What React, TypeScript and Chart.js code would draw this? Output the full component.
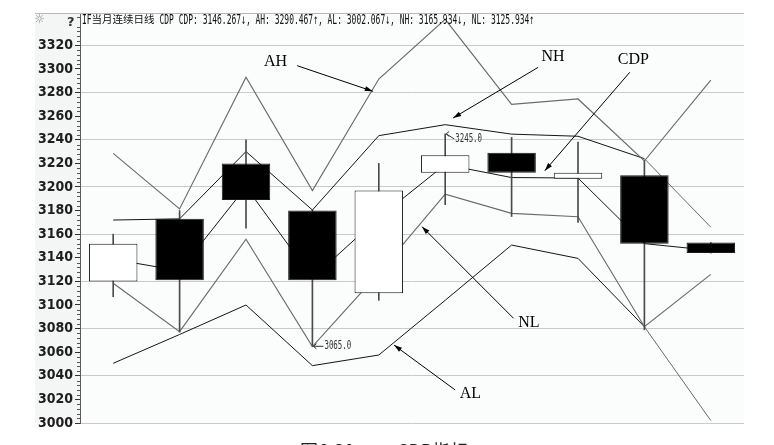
import React, { useEffect, useRef } from 'react';
import { Chart, registerables } from 'chart.js';

Chart.register(...registerables);

// ---- data ----
const days = ['D1', 'D2', 'D3', 'D4', 'D5', 'D6', 'D7', 'D8', 'D9', 'D10'];
const opens = [3120, 3173, 3220, 3180, 3110, 3212, 3229, 3207, 3210, 3153];
const closes = [3152, 3121, 3189, 3121, 3197, 3227, 3212, 3212, 3152, 3144];
const highs = [3160, 3180, 3240, 3181, 3220, 3245, 3242, 3238, 3222, 3153];
const lows = [3107, 3077, 3165, 3065, 3104, 3185, 3175, 3170, 3079, 3144];

const ahValues = [3228.5, 3181.4, 3293, 3197, 3291.5, 3342, 3270, 3274.6, 3222, 3290.467];
const nhValues = [3172, 3173, 3230, 3180.5, 3243.5, 3252.8, 3244.8, 3243, 3224, 3165.934];
const cdpValues = [3138.7, 3129, 3200, 3123, 3174, 3219, 3208, 3207.6, 3152, 3146.267];
const nlValues = [3118.4, 3077.4, 3155.7, 3064.7, 3127, 3194, 3177.7, 3174.8, 3081.6, 3125.934];
const alValues = [3050.6, 3075, 3100, 3048.6, 3057.6, 3104, 3150.8, 3139.5, 3081.6, 3002.067];

const yTicks = [3000, 3020, 3040, 3060, 3080, 3100, 3120, 3140, 3160, 3180, 3200, 3220, 3240, 3260, 3280, 3300, 3320];

const headerPrefix = 'IF';
const headerCjk = '当月连续日线';
const headerRest = ' CDP CDP: 3146.267↓, AH: 3290.467↑, AL: 3002.067↓, NH: 3165.934↓, NL: 3125.934↑';
const captionLeft = '图6-30';
const captionRight = 'CDP指标';

const noteLabels = ['AH', 'NH', 'CDP', 'NL', 'AL'];
// [index, value] anchor positions for the annotation texts and arrows
const noteText = [[2.27, 3306.4], [6.45, 3310.6], [7.6, 3307.8], [6.1, 3085.2], [5.22, 3024.6]];
const noteFrom = [[2.77, 3302.8], [6.4, 3301.4], [7.78, 3297.2], [6.03, 3088.7], [5.15, 3028]];
const noteTo = [[3.91, 3281.1], [5.12, 3258.5], [6.5, 3213.8], [4.65, 3166.4], [4.23, 3066]];

const GRAY = '#6a6a6a';
const DARK = '#151515';

const decorPlugin = {
  id: 'decor',
  beforeDraw(chart: any) {
    const { ctx, chartArea: a, width, height } = chart;
    ctx.save();
    ctx.fillStyle = '#ffffff';
    ctx.fillRect(0, 0, width, height);
    ctx.fillStyle = '#f4f5f5';
    ctx.fillRect(35, a.top, a.left - 35, a.bottom - a.top);
    ctx.fillStyle = '#fbfcfc';
    ctx.fillRect(a.left, a.top, a.right - a.left, a.bottom - a.top);
    ctx.restore();
  },
  afterDraw(chart: any) {
    const { ctx, chartArea: a } = chart;
    const xs = chart.scales.x;
    const ys = chart.scales.y;
    const px = (i: number) => xs.getPixelForValue(i);
    const py = (v: number) => ys.getPixelForValue(v);
    ctx.save();

    // panel top line
    ctx.strokeStyle = '#b8b8b8';
    ctx.lineWidth = 1;
    ctx.beginPath();
    ctx.moveTo(35, a.top - 0.5);
    ctx.lineTo(a.right, a.top - 0.5);
    ctx.stroke();

    // minor ticks on y axis
    ctx.strokeStyle = '#555';
    ctx.beginPath();
    for (let v = 3000; v <= 3344; v += 4) {
      if (v % 20 === 0) continue;
      const y = Math.round(py(v)) + 0.5;
      ctx.moveTo(a.left - 3, y);
      ctx.lineTo(a.left, y);
    }
    ctx.stroke();

    // header icons
    const base = 24;
    ctx.textBaseline = 'alphabetic';
    ctx.fillStyle = '#8a8a8a';
    ctx.font = '12px "DejaVu Sans"';
    ctx.fillText('☼', 34, base - 1);
    ctx.fillStyle = '#333';
    ctx.font = 'bold 13px "DejaVu Sans"';
    ctx.fillText('?', 67, base + 2);

    // header text (condensed mono + CJK)
    const monoScale = 0.57;
    const drawMono = (t: string, x: number) => {
      ctx.save();
      ctx.translate(x, base);
      ctx.scale(monoScale, 1);
      ctx.fillStyle = '#111';
      ctx.font = '14px "DejaVu Sans Mono"';
      ctx.fillText(t, 0, 0);
      const w = ctx.measureText(t).width * monoScale;
      ctx.restore();
      return w;
    };
    let hx = 82;
    hx += drawMono(headerPrefix, hx);
    ctx.fillStyle = '#111';
    ctx.font = '10.5px "Noto Sans CJK SC"';
    ctx.fillText(headerCjk, hx, base - 1);
    hx += ctx.measureText(headerCjk).width;
    drawMono(headerRest, hx);

    // annotations
    ctx.font = '16px "Liberation Serif"';
    ctx.fillStyle = '#000';
    ctx.textBaseline = 'middle';
    noteLabels.forEach((t, k) => {
      ctx.fillText(t, px(noteText[k][0]), py(noteText[k][1]));
      const x1 = px(noteFrom[k][0]);
      const y1 = py(noteFrom[k][1]);
      const x2 = px(noteTo[k][0]);
      const y2 = py(noteTo[k][1]);
      ctx.strokeStyle = '#000';
      ctx.lineWidth = 1;
      ctx.beginPath();
      ctx.moveTo(x1, y1);
      ctx.lineTo(x2, y2);
      ctx.stroke();
      const ang = Math.atan2(y2 - y1, x2 - x1);
      const L = 8;
      const W = 2.5;
      ctx.beginPath();
      ctx.moveTo(x2, y2);
      ctx.lineTo(x2 - L * Math.cos(ang) + W * Math.sin(ang), y2 - L * Math.sin(ang) - W * Math.cos(ang));
      ctx.lineTo(x2 - L * Math.cos(ang) - W * Math.sin(ang), y2 - L * Math.sin(ang) + W * Math.cos(ang));
      ctx.closePath();
      ctx.fill();
    });

    // value marks on extreme candles
    const drawMark = (idx: number, val: number, dx: number, dy: number) => {
      const x0 = px(idx);
      const y0 = py(val);
      ctx.strokeStyle = '#333';
      ctx.lineWidth = 1;
      ctx.beginPath();
      ctx.moveTo(x0 + 1, y0);
      ctx.lineTo(x0 + dx, y0 + dy);
      ctx.moveTo(x0 + 1, y0);
      ctx.lineTo(x0 + 4, y0 - 2.5);
      ctx.moveTo(x0 + 1, y0);
      ctx.lineTo(x0 + 4, y0 + 2.5);
      ctx.stroke();
      ctx.save();
      ctx.translate(x0 + dx + 1, y0 + dy);
      ctx.scale(0.62, 1);
      ctx.fillStyle = '#333';
      ctx.font = '12px "DejaVu Sans Mono"';
      ctx.textBaseline = 'middle';
      ctx.fillText(val.toFixed(1), 0, 0);
      ctx.restore();
    };
    drawMark(3, lows[3], 11, 0);
    drawMark(5, highs[5], 9, 5);

    // caption (cut off at the bottom)
    ctx.fillStyle = '#222';
    ctx.font = '18px "Noto Sans CJK SC"';
    ctx.textBaseline = 'top';
    ctx.fillText(captionLeft, 300, 442);
    ctx.fillText(captionRight, 397, 442);

    ctx.restore();
  },
};

export default function App() {
  const ref = useRef<HTMLCanvasElement | null>(null);
  useEffect(() => {
    const canvas = ref.current;
    if (!canvas) return;
    const lineDs = (data: number[], color: string, lastGray: boolean) => ({
      type: 'line' as const,
      data,
      borderColor: color,
      borderWidth: color === GRAY ? 1.15 : 1,
      pointRadius: 0,
      tension: 0,
      order: 3,
      segment: {
        borderColor: (c: any) => (lastGray && c.p0DataIndex === data.length - 2 ? GRAY : undefined),
      },
    });
    const chart = new Chart(canvas, {
      data: {
        labels: days,
        datasets: [
          {
            type: 'bar',
            data: opens.map((o, i) => [Math.min(o, closes[i]), Math.max(o, closes[i])]),
            backgroundColor: opens.map((o, i) => (closes[i] >= o ? '#ffffff' : '#000000')),
            borderColor: '#1a1a1a',
            borderWidth: 1,
            borderSkipped: false,
            grouped: false,
            barPercentage: 0.73,
            categoryPercentage: 1,
            order: 1,
          } as any,
          {
            type: 'bar',
            data: lows.map((l, i) => [l, highs[i]]),
            backgroundColor: '#4a4a4a',
            barThickness: 1,
            grouped: false,
            order: 2,
          } as any,
          lineDs(ahValues, GRAY, false),
          lineDs(nhValues, DARK, true),
          lineDs(cdpValues, DARK, false),
          lineDs(nlValues, GRAY, false),
          lineDs(alValues, DARK, true),
        ],
      },
      options: {
        responsive: false,
        animation: false,
        layout: { padding: { top: 14, right: 30, bottom: 22, left: 0 } },
        plugins: { legend: { display: false }, tooltip: { enabled: false } },
        scales: {
          x: { display: false, offset: true },
          y: {
            min: 3000,
            max: 3346.6,
            afterFit: (s: any) => {
              s.width = 80;
            },
            afterBuildTicks: (s: any) => {
              s.ticks = yTicks.map((v) => ({ value: v }));
            },
            grid: {
              color: (c: any) => (c.tick && c.tick.value % 40 === 0 ? '#cacaca' : 'rgba(0,0,0,0)'),
              tickColor: '#333',
              tickLength: 5,
              drawTicks: true,
            },
            border: { color: '#5a5a5a', width: 1 },
            ticks: {
              color: '#1e1e1e',
              padding: 2,
              callback: (v: any) => String(v),
              font: { family: '"Liberation Sans Narrow", "DejaVu Sans Condensed", "Liberation Sans"', size: 14, weight: 'bold' },
            },
          },
        },
      } as any,
      plugins: [decorPlugin],
    });
    return () => chart.destroy();
  }, []);
  return (
    <div style={{ position: 'fixed', left: 0, top: 0, width: 774, height: 445 }}>
      <canvas ref={ref} width={774} height={445} style={{ display: 'block' }} />
    </div>
  );
}
